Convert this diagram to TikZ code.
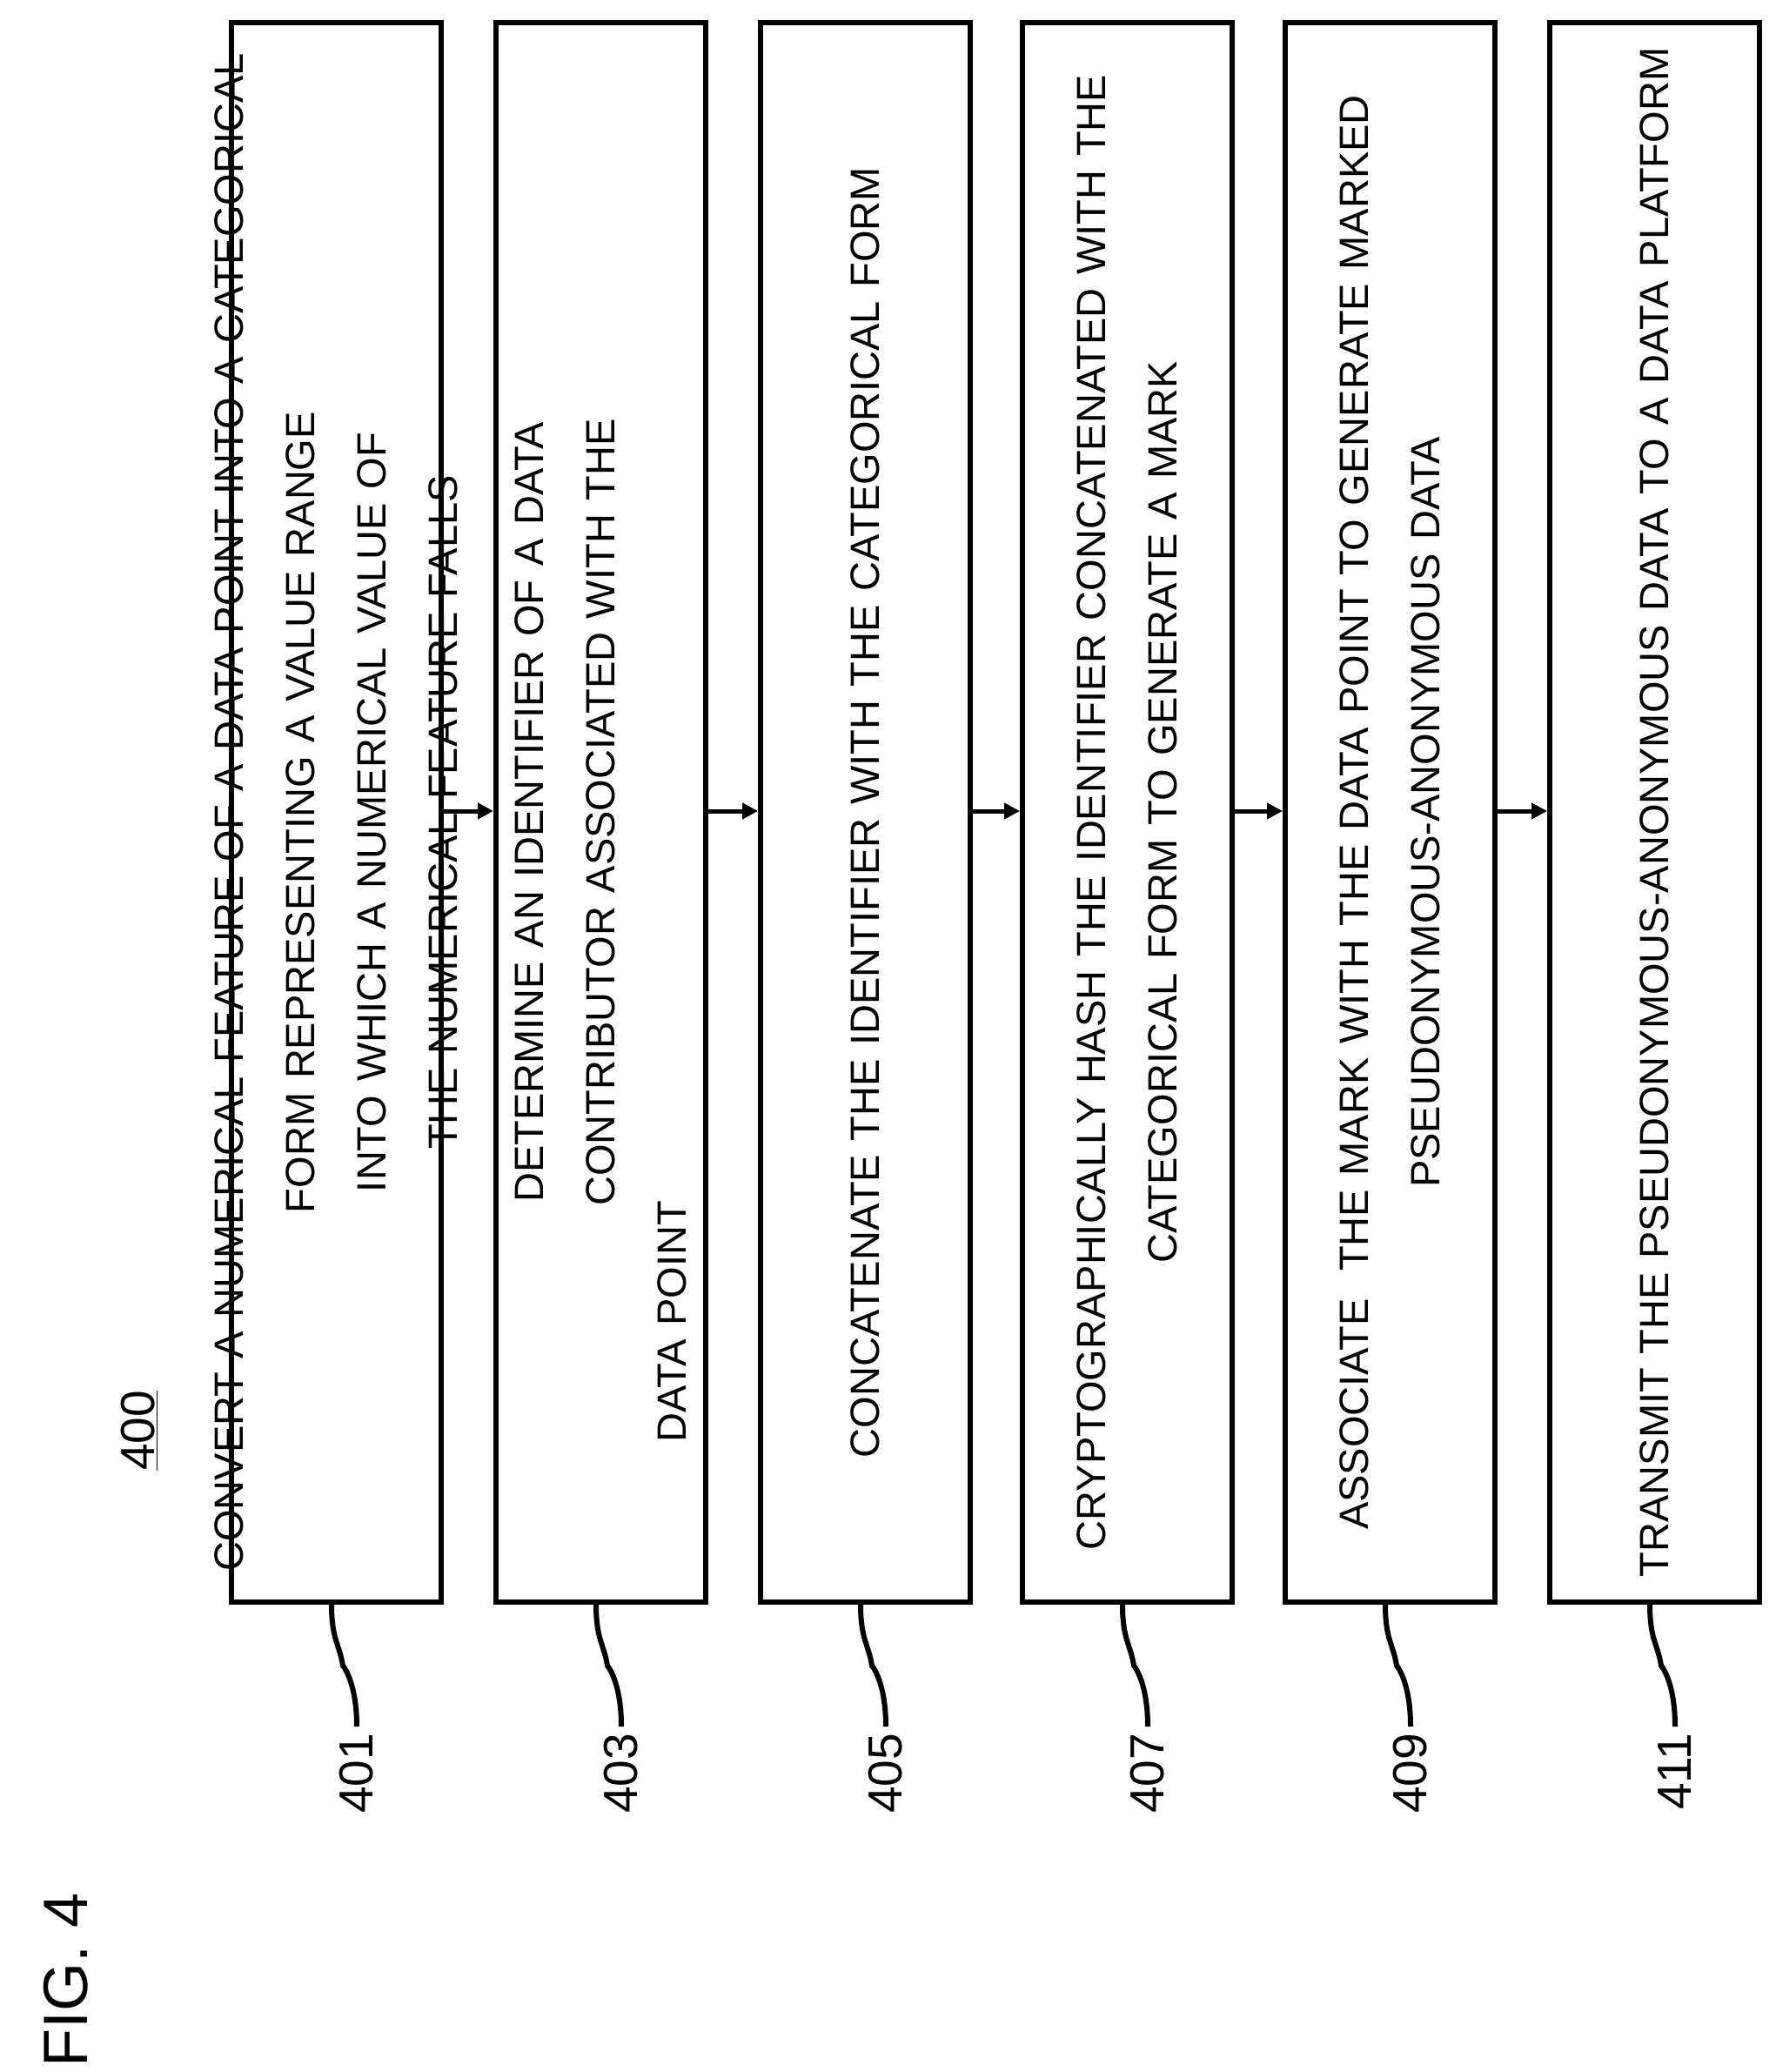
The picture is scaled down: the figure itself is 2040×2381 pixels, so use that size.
\documentclass[tikz,border=0pt]{standalone}
\usepackage{fontspec}
\setmainfont{Liberation Sans}
\usetikzlibrary{arrows.meta}
\begin{document}
\begin{tikzpicture}[x=1pt,y=-1pt,
  stepbox/.style={draw,line width=6pt,minimum width=241pt,minimum height=1815pt,anchor=north west,inner sep=0pt},
  boxtext/.style={rotate=90,text width=1790pt,align=center,font=\fontsize{47}{82}\selectfont},
  flow/.style={line width=5pt,-{Triangle[length=18pt,width=18pt]}},
  leader/.style={line width=6pt},
  reflabel/.style={rotate=90,font=\fontsize{55}{60}\selectfont,anchor=east,inner sep=0pt}]
\useasboundingbox (0,0) rectangle (2040,2381);
\foreach \i/\x in {1/263,2/567,3/871,4/1172,5/1474,6/1778}{
  \node[stepbox] (b\i) at (\x,23) {};
}
\node[boxtext] at (b1.center) {CONVERT A NUMERICAL FEATURE OF A DATA POINT INTO A CATEGORICAL\\FORM REPRESENTING A VALUE RANGE INTO WHICH A NUMERICAL VALUE OF\\THE NUMERICAL FEATURE FALLS};
\node[boxtext] at (b2.center) {DETERMINE AN IDENTIFIER OF A DATA CONTRIBUTOR ASSOCIATED WITH THE\\DATA POINT\hspace*{1170pt}\null};
\node[boxtext] at (b3.center) {CONCATENATE THE IDENTIFIER WITH THE CATEGORICAL FORM};
\node[boxtext] at (b4.center) {CRYPTOGRAPHICALLY HASH THE IDENTIFIER CONCATENATED WITH THE\\CATEGORICAL FORM TO GENERATE A MARK};
\node[boxtext] at (b5.center) {ASSOCIATE\ \ THE MARK WITH THE DATA POINT TO GENERATE MARKED\\PSEUDONYMOUS-ANONYMOUS DATA};
\node[boxtext] at (b6.center) {TRANSMIT THE PSEUDONYMOUS-ANONYMOUS DATA TO A DATA PLATFORM};
\foreach \a/\b in {1/2,2/3,3/4,4/5,5/6}{
  \draw[flow] (b\a.east |- 0,932) -- (b\b.west |- 0,932);
}
\foreach \i/\n in {1/401,2/403,3/405,4/407,5/409,6/411}{
  \coordinate (s\i) at ([xshift=118pt]b\i.south west);
  \coordinate (e\i) at ([xshift=147pt,yshift=-140pt]b\i.south west);
  \draw[leader] (s\i) .. controls +(0,40) and +(-4,-25) .. ([xshift=13pt,yshift=-70pt]s\i)
     .. controls +(4,5) and +(0,-45) .. (e\i);
  \node[reflabel] (l\i) at ([yshift=-8pt]e\i) {\n};
}
\node[rotate=90,font=\fontsize{55}{60}\selectfont] (t400) at (160,1644) {\underline{400}};
\node[rotate=90,font=\fontsize{72}{80}\selectfont] (fig) at (76,2275) {FIG. 4};
\end{tikzpicture}
\end{document}
